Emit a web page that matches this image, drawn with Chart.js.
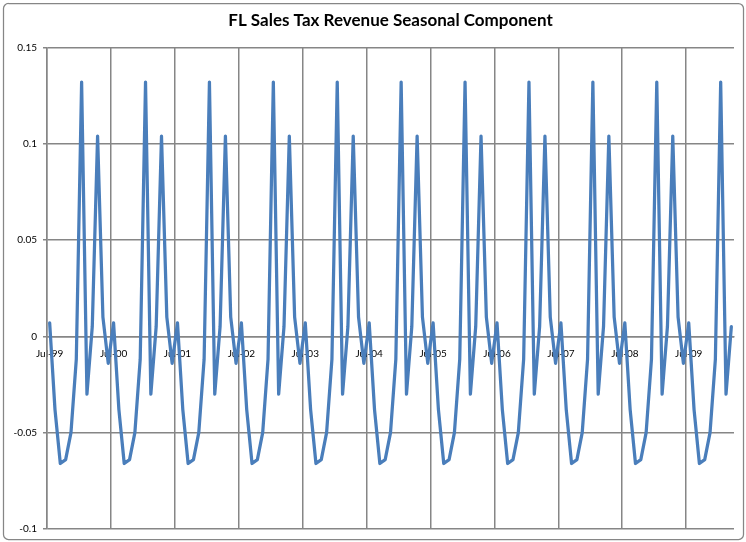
<!DOCTYPE html>
<html>
<head>
<meta charset="utf-8">
<script src="https://cdn.jsdelivr.net/npm/chart.js@4.4.1/dist/chart.umd.min.js"></script>
<style>
  html, body { margin: 0; padding: 0; background: #ffffff; }
  #wrap { position: relative; width: 746px; height: 542px; }
</style>
</head>
<body>
<div id="wrap"><canvas id="c" width="746" height="542"></canvas></div>
<script>
// ---- data ----
const chartTitle = 'FL Sales Tax Revenue Seasonal Component';
const monthNames = ['Jan','Feb','Mar','Apr','May','Jun','Jul','Aug','Sep','Oct','Nov','Dec'];
const startYear = 1999;           // first category: Jul-99
const startMonth = 6;             // July (0-based)
const monthCount = 129;           // Jul-99 .. Mar-10
const tickLabels = ['Jul-99','Jul-00','Jul-01','Jul-02','Jul-03','Jul-04','Jul-05','Jul-06','Jul-07','Jul-08','Jul-09'];
const yTicks = [-0.1, -0.05, 0, 0.05, 0.1, 0.15];

// seasonal component, one row per fiscal year (Jul .. Jun)
const seasonal = [
  0.007, -0.038, -0.066, -0.064, -0.050, -0.012, 0.132, -0.030, 0.005, 0.104, 0.010, -0.014, // 99-00
  0.007, -0.038, -0.066, -0.064, -0.050, -0.012, 0.132, -0.030, 0.005, 0.104, 0.010, -0.014, // 00-01
  0.007, -0.038, -0.066, -0.064, -0.050, -0.012, 0.132, -0.030, 0.005, 0.104, 0.010, -0.014, // 01-02
  0.007, -0.038, -0.066, -0.064, -0.050, -0.012, 0.132, -0.030, 0.005, 0.104, 0.010, -0.014, // 02-03
  0.007, -0.038, -0.066, -0.064, -0.050, -0.012, 0.132, -0.030, 0.005, 0.104, 0.010, -0.014, // 03-04
  0.007, -0.038, -0.066, -0.064, -0.050, -0.012, 0.132, -0.030, 0.005, 0.104, 0.010, -0.014, // 04-05
  0.007, -0.038, -0.066, -0.064, -0.050, -0.012, 0.132, -0.030, 0.005, 0.104, 0.010, -0.014, // 05-06
  0.007, -0.038, -0.066, -0.064, -0.050, -0.012, 0.132, -0.030, 0.005, 0.104, 0.010, -0.014, // 06-07
  0.007, -0.038, -0.066, -0.064, -0.050, -0.012, 0.132, -0.030, 0.005, 0.104, 0.010, -0.014, // 07-08
  0.007, -0.038, -0.066, -0.064, -0.050, -0.012, 0.132, -0.030, 0.005, 0.104, 0.010, -0.014, // 08-09
  0.007, -0.038, -0.066, -0.064, -0.050, -0.012, 0.132, -0.030, 0.005                          // 09-10
];

// category labels (month-year)
const categories = [];
for (let i = 0; i < monthCount; i++) {
  const m = (startMonth + i) % 12;
  const y = startYear + Math.floor((startMonth + i) / 12);
  categories.push(monthNames[m] + '-' + String(y % 100).padStart(2, '0'));
}

const GRID = '#868686';

const outerBorder = {
  id: 'outerBorder',
  beforeDraw(chart) {
    const ctx = chart.ctx;
    ctx.save();
    ctx.fillStyle = '#ffffff';
    ctx.fillRect(0, 0, chart.width, chart.height);
    ctx.strokeStyle = GRID;
    ctx.lineWidth = 1.25;
    ctx.beginPath();
    ctx.roundRect(3.5, 3.5, 740, 536, 5);
    ctx.stroke();
    ctx.restore();
  }
};

function build() {
  Chart.defaults.font.family = 'Lato, "Liberation Sans", sans-serif';
  Chart.defaults.color = '#000000';
  new Chart(document.getElementById('c'), {
    type: 'line',
    data: {
      labels: categories,
      datasets: [{
        data: seasonal,
        borderColor: '#4a7ebb',
        borderWidth: 3.25,
        pointRadius: 0,
        pointHoverRadius: 0,
        tension: 0,
        fill: false,
        borderJoinStyle: 'round',
        borderCapStyle: 'round'
      }]
    },
    plugins: [outerBorder],
    options: {
      responsive: false,
      animation: false,
      events: [],
      layout: { padding: { left: 0, right: 12, top: 0, bottom: 13 } },
      plugins: {
        legend: { display: false },
        tooltip: { enabled: false },
        title: {
          display: true,
          fullSize: false,
          text: chartTitle,
          color: '#000000',
          font: { size: 17, weight: 'bold', family: 'Lato, "Liberation Sans", sans-serif' },
          padding: { top: 10, bottom: 17 }
        }
      },
      scales: {
        x: {
          type: 'category',
          position: { y: 0 },
          offset: true,
          grid: {
            offset: true,
            drawTicks: false,
            lineWidth: 1.5,
            color: (ctx) => (ctx.index % 12 === 0 ? GRID : 'rgba(0,0,0,0)')
          },
          border: { display: true, color: GRID, width: 1.5 },
          ticks: {
            autoSkip: false,
            maxRotation: 0,
            minRotation: 0,
            padding: 11,
            font: { size: 10 },
            color: '#000000',
            callback: function (val, idx) {
              const lab = categories[idx];
              return tickLabels.includes(lab) ? lab : '';
            }
          }
        },
        y: {
          min: -0.1,
          max: 0.15,
          afterFit: (scale) => { scale.width = 47; },
          afterBuildTicks: (scale) => { scale.ticks = yTicks.map(v => ({ value: v })); },
          grid: { color: GRID, lineWidth: 1.5, drawTicks: true, tickLength: 4 },
          border: { display: true, color: GRID, width: 1.5 },
          ticks: {
            padding: 6,
            font: { size: 10 },
            color: '#000000',
            callback: (v) => String(Math.round(v * 100) / 100)
          }
        }
      }
    }
  });
}

const fontLoads = [
  document.fonts.load('bold 17px Lato'),
  document.fonts.load('10px Lato')
];
Promise.all(fontLoads).then(build, build);
</script>
</body>
</html>
